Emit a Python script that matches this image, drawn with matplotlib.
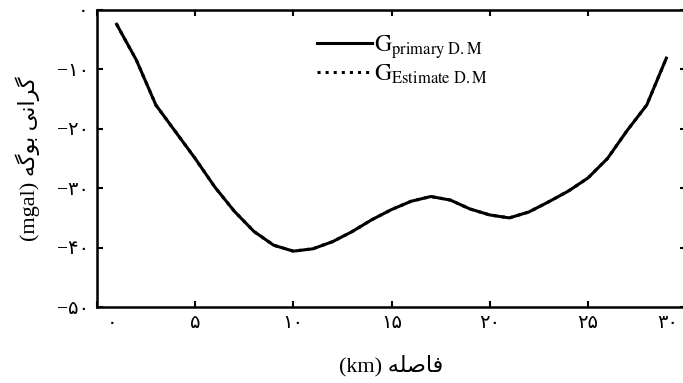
import numpy as np
import matplotlib.pyplot as plt
from matplotlib.transforms import ScaledTranslation

plt.rcParams['font.family'] = ['Liberation Serif', 'DejaVu Sans']
plt.rcParams['mathtext.fontset'] = 'stix'

# distance (km) and Bouguer gravity (mgal)
dist = [1, 2, 3, 4, 5, 6, 7, 8, 9, 10, 11, 12, 13, 14, 15,
        16, 17, 18, 19, 20, 21, 22, 23, 24, 25, 26, 27, 28, 29]
g_primary = [-2.4, -8.4, -16.0, -20.5, -25.0, -29.8, -33.9, -37.3, -39.6, -40.6,
             -40.2, -39.0, -37.3, -35.3, -33.6, -32.2, -31.4, -32.0, -33.5, -34.5,
             -35.0, -34.0, -32.3, -30.5, -28.3, -25.0, -20.3, -16.0, -8.1]
g_estimate = [-2.4, -8.4, -16.0, -20.5, -25.0, -29.8, -33.9, -37.3, -39.6, -40.6,
              -40.2, -39.0, -37.3, -35.3, -33.6, -32.2, -31.4, -32.0, -33.5, -34.5,
              -35.0, -34.0, -32.3, -30.5, -28.3, -25.0, -20.3, -16.0, -8.1]

xticks = [0, 5, 10, 15, 20, 25, 30]
xtick_labels = ['\u06f0', '\u06f5', '\u06f1\u06f0', '\u06f1\u06f5',
                '\u06f2\u06f0', '\u06f2\u06f5', '\u06f3\u06f0']
yticks = [0, -10, -20, -30, -40, -50]
ytick_labels = ['\u06f0', '\u2212\u06f1\u06f0', '\u2212\u06f2\u06f0',
                '\u2212\u06f3\u06f0', '\u2212\u06f4\u06f0', '\u2212\u06f5\u06f0']

# Persian labels in visual (pre-shaped, left-to-right) order
xlabel = '(km) ' + '\ufeea\ufee0\ufebb\ufe8e\ufed3'
ylabel = ('(mgal) ' + '\ufeea\ufb94\ufeee\ufe91' + ' '
          + '\ufbfd\ufee7\ufe8d\ufeae\ufb94')

fig = plt.figure(figsize=(6.83, 3.83), dpi=100)
ax = fig.add_axes([97 / 683, 76 / 383, 589 / 683, 297 / 383])

ax.plot(dist, g_primary, color='black', lw=2.2, label=r'$\mathrm{G}_{\mathrm{primary\ D.M}}$')
ax.plot(dist, g_estimate, color='black', lw=2.2, ls=':', label=r'$\mathrm{G}_{\mathrm{Estimate\ D.M}}$')

ax.set_xlim(0, 30)
ax.set_ylim(-50, 0)
ax.set_xticks(xticks)
ax.set_xticklabels(xtick_labels)
ax.set_yticks(yticks)
ax.set_yticklabels(ytick_labels)
ax.tick_params(axis='both', direction='in', length=4, width=1.5,
               top=True, right=True, labelsize=14, pad=6)
for s in ax.spines.values():
    s.set_linewidth(1.8)

xl = ax.get_xticklabels()
xl[0].set_transform(xl[0].get_transform() + ScaledTranslation(15 / 100, 0, fig.dpi_scale_trans))
xl[-1].set_transform(xl[-1].get_transform() + ScaledTranslation(-18 / 100, 0, fig.dpi_scale_trans))

ax.set_xlabel(xlabel, fontsize=16, labelpad=16)
ax.set_ylabel(ylabel, fontsize=16, labelpad=12)

ax.legend(loc='upper left', bbox_to_anchor=(296 / 683, 1 - 12 / 383),
          bbox_transform=fig.transFigure, frameon=False, fontsize=17,
          handlelength=2.3, handletextpad=0.1, labelspacing=0.05)

fig.savefig('out.png', dpi=100)
